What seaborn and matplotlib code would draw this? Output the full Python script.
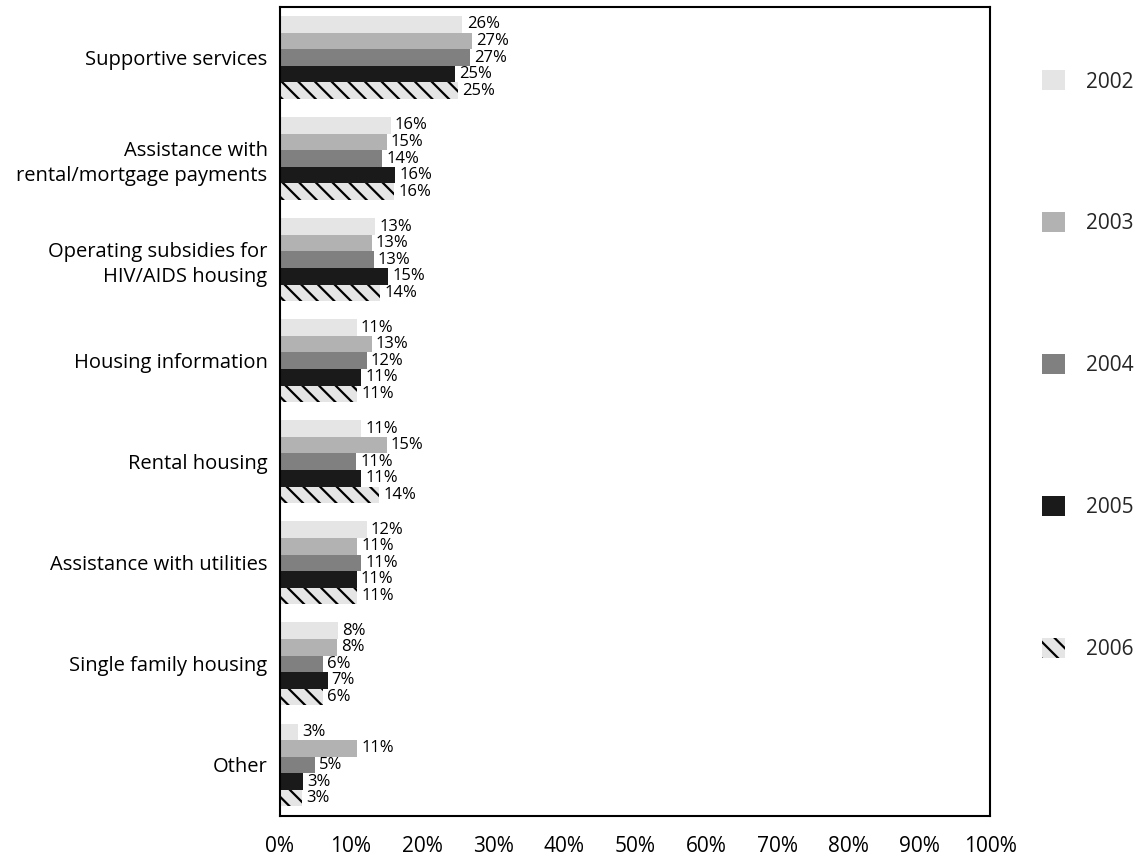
import matplotlib
matplotlib.use("Agg")
import matplotlib.pyplot as plt
import matplotlib.patches as mpatches
import seaborn as sns
import pandas as pd

categories = [
    "Supportive services",
    "Assistance with\nrental/mortgage payments",
    "Operating subsidies for\nHIV/AIDS housing",
    "Housing information",
    "Rental housing",
    "Assistance with utilities",
    "Single family housing",
    "Other",
]
years = ["2002", "2003", "2004", "2005", "2006"]

# Share of activity (%) by category, one list per year
v2002 = [25.7, 15.6, 13.4, 10.8, 11.4, 12.2, 8.1, 2.6]
v2003 = [27.0, 15.0, 12.9, 12.9, 15.0, 10.9, 8.0, 10.9]
v2004 = [26.8, 14.4, 13.2, 12.2, 10.7, 11.4, 6.1, 4.9]
v2005 = [24.6, 16.2, 15.2, 11.4, 11.4, 10.8, 6.7, 3.3]
v2006 = [25.0, 16.1, 14.1, 10.9, 14.0, 10.9, 6.0, 3.1]

xticks = [0, 10, 20, 30, 40, 50, 60, 70, 80, 90, 100]

colors = ["#e5e5e5", "#b2b2b2", "#808080", "#1a1a1a", "#e5e5e5"]
HATCH = "\\\\"

series = [v2002, v2003, v2004, v2005, v2006]
rows = []
for yr, vals in zip(years, series):
    for cat, v in zip(categories, vals):
        rows.append({"category": cat, "year": yr, "value": v})
df = pd.DataFrame(rows)

sns.set_style("white")
plt.rcParams["font.family"] = ["Open Sans", "DejaVu Sans"]
plt.rcParams["hatch.linewidth"] = 1.6

fig = plt.figure(figsize=(11.37, 8.58), dpi=100)
ax = fig.add_axes([280 / 1137, 1 - 815.5 / 858, 710 / 1137, 808.5 / 858])

sns.barplot(data=df, y="category", x="value", hue="year", orient="h",
            order=categories, hue_order=years, palette=colors,
            width=0.82, saturation=1, ax=ax, legend=False)

for i, cont in enumerate(ax.containers):
    for bar in cont:
        if i == 4:
            bar.set_hatch(HATCH)
            bar.set_edgecolor("black")
        else:
            bar.set_edgecolor(bar.get_facecolor())
        bar.set_linewidth(0)
    ax.bar_label(cont, labels=[f"{v:.0f}%" for v in series[i]],
                 padding=3, fontsize=12, color="black")

ax.set_xlim(0, 100)
ax.set_ylim(7.5, -0.5)
ax.set_xticks(xticks)
ax.set_xticklabels([f"{t}%" for t in xticks], fontsize=15, color="black")
ax.tick_params(axis="x", direction="out", length=10, width=1, color="black", pad=5)
ax.tick_params(axis="y", length=0, pad=9, labelsize=14.5, labelcolor="black")
for lbl in ax.get_yticklabels():
    lbl.set_multialignment("right")
    lbl.set_linespacing(1.35)
ax.set_xlabel("")
ax.set_ylabel("")
for s in ax.spines.values():
    s.set_visible(True)
    s.set_color("black")
    s.set_linewidth(1.5)

handles = []
for i, (yr, c) in enumerate(zip(years, colors)):
    h = mpatches.Patch(facecolor=c, edgecolor="black" if i == 4 else c,
                       linewidth=0, hatch=HATCH if i == 4 else None, label=yr)
    handles.append(h)
fig.legend(handles=handles, loc="upper left", bbox_to_anchor=(1032 / 1137, 1 - 60 / 858),
           frameon=False, fontsize=15, handlelength=1.1, handleheight=1.1,
           handletextpad=1.0, labelspacing=5.75, borderpad=0)

fig.savefig("out.png", dpi=100)
